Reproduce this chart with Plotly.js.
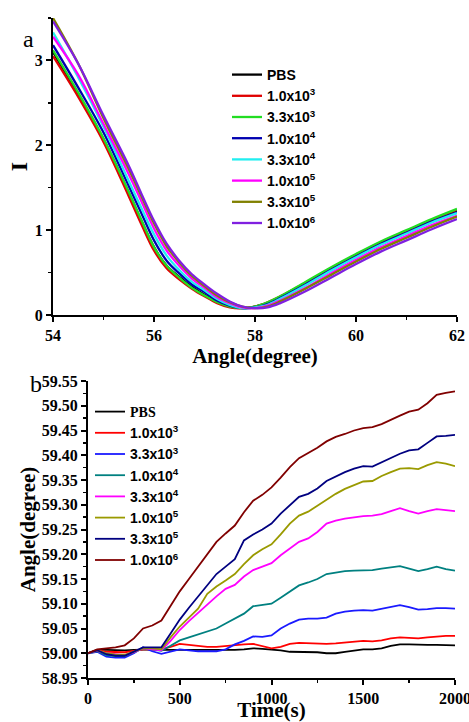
<!DOCTYPE html>
<html><head><meta charset="utf-8">
<script src="https://cdn.plot.ly/plotly-3.0.1.min.js"></script>
<style>html,body{margin:0;padding:0;background:#fff}#chart{width:469px;height:722px}</style>
</head><body><div id="chart"></div>
<script>
// ---------- Panel a: SPR reflectance curves ----------
const angleA = [54, 54.5, 55, 55.5, 55.75, 56, 56.25, 56.5, 56.75, 57, 57.25, 57.5, 57.75, 58, 58.25, 58.5, 59, 59.5, 60, 60.5, 61, 61.5, 62];
const namesA = ['PBS', '1.0x10<sup>3</sup>', '3.3x10<sup>3</sup>', '1.0x10<sup>4</sup>', '3.3x10<sup>4</sup>', '1.0x10<sup>5</sup>', '3.3x10<sup>5</sup>', '1.0x10<sup>6</sup>'];
const colorsA = ['#000000', '#e00000', '#22dd22', '#0000b0', '#22eef0', '#ff00ff', '#808000', '#8020e0'];
const iPBS  = [3.10, 2.60, 2.07, 1.44, 1.11, 0.80, 0.58, 0.45, 0.33, 0.24, 0.15, 0.10, 0.08, 0.10, 0.14, 0.21, 0.37, 0.54, 0.70, 0.85, 0.98, 1.11, 1.23];
const i1e3  = [3.05, 2.57, 2.04, 1.40, 1.07, 0.76, 0.55, 0.42, 0.31, 0.22, 0.14, 0.09, 0.08, 0.10, 0.15, 0.22, 0.38, 0.55, 0.71, 0.86, 0.99, 1.12, 1.24];
const i33e3 = [3.12, 2.62, 2.08, 1.45, 1.12, 0.80, 0.58, 0.44, 0.32, 0.23, 0.15, 0.10, 0.08, 0.10, 0.15, 0.22, 0.39, 0.56, 0.72, 0.87, 1.00, 1.13, 1.25];
const i1e4  = [3.18, 2.68, 2.15, 1.52, 1.20, 0.88, 0.64, 0.49, 0.36, 0.27, 0.17, 0.11, 0.08, 0.09, 0.13, 0.20, 0.36, 0.53, 0.69, 0.84, 0.97, 1.10, 1.21];
const i33e4 = [3.33, 2.80, 2.22, 1.58, 1.26, 0.95, 0.70, 0.53, 0.39, 0.29, 0.19, 0.12, 0.08, 0.09, 0.12, 0.19, 0.35, 0.52, 0.68, 0.83, 0.96, 1.09, 1.20];
const i1e5  = [3.28, 2.83, 2.25, 1.66, 1.34, 1.02, 0.76, 0.58, 0.43, 0.32, 0.21, 0.14, 0.09, 0.08, 0.11, 0.17, 0.32, 0.49, 0.65, 0.80, 0.93, 1.06, 1.17];
const i33e5 = [3.50, 2.96, 2.32, 1.72, 1.40, 1.08, 0.81, 0.62, 0.46, 0.34, 0.23, 0.15, 0.10, 0.08, 0.10, 0.16, 0.31, 0.47, 0.63, 0.78, 0.91, 1.04, 1.16];
const i1e6  = [3.46, 2.96, 2.35, 1.76, 1.43, 1.11, 0.84, 0.64, 0.48, 0.36, 0.25, 0.16, 0.10, 0.08, 0.09, 0.14, 0.28, 0.44, 0.60, 0.75, 0.88, 1.01, 1.13];
const seriesA = [iPBS, i1e3, i33e3, i1e4, i33e4, i1e5, i33e5, i1e6];

// ---------- Panel b: angle vs time ----------
const timeB = [0,50,100,150,200,250,300,350,400,450,500,550,600,650,700,750,800,850,900,950,1000,1050,1100,1150,1200,1250,1300,1350,1400,1450,1500,1550,1600,1650,1700,1750,1800,1850,1900,1950,2000];
const namesB = ['PBS', '1.0x10<sup>3</sup>', '3.3x10<sup>3</sup>', '1.0x10<sup>4</sup>', '3.3x10<sup>4</sup>', '1.0x10<sup>5</sup>', '3.3x10<sup>5</sup>', '1.0x10<sup>6</sup>'];
const colorsB = ['#000000', '#ff0000', '#1a1aff', '#008080', '#ff00ff', '#9a9a00', '#000080', '#800000'];
const bPBS  = [59.000,59.007,59.007,59.006,59.006,59.007,59.008,59.008,59.007,59.007,59.007,59.007,59.007,59.006,59.006,59.006,59.007,59.008,59.010,59.009,59.008,59.006,59.003,59.003,59.003,59.002,59.000,59.000,59.003,59.006,59.008,59.008,59.010,59.015,59.018,59.018,59.017,59.017,59.017,59.017,59.016];
const b1e3  = [59.000,59.006,59.003,59.002,59.002,59.005,59.008,59.008,59.008,59.013,59.019,59.017,59.015,59.013,59.013,59.015,59.017,59.018,59.019,59.014,59.010,59.013,59.019,59.021,59.020,59.019,59.019,59.020,59.022,59.024,59.025,59.024,59.026,59.030,59.032,59.031,59.030,59.032,59.034,59.035,59.035];
const b33e3 = [59.000,59.003,58.993,58.991,58.991,59.000,59.012,59.004,58.999,59.004,59.008,59.006,59.004,59.004,59.004,59.008,59.018,59.025,59.034,59.033,59.036,59.050,59.060,59.068,59.070,59.070,59.072,59.080,59.084,59.086,59.087,59.086,59.090,59.094,59.097,59.093,59.088,59.089,59.091,59.091,59.090];
const b1e4  = [59.000,59.004,58.996,58.994,58.994,59.002,59.010,59.008,59.005,59.015,59.026,59.032,59.038,59.043,59.050,59.060,59.070,59.080,59.095,59.097,59.100,59.112,59.125,59.137,59.143,59.150,59.160,59.163,59.166,59.167,59.168,59.168,59.171,59.174,59.176,59.171,59.166,59.170,59.175,59.170,59.167];
const b33e4 = [59.000,59.005,59.000,58.998,58.996,59.002,59.010,59.008,59.006,59.025,59.047,59.065,59.082,59.100,59.115,59.130,59.138,59.155,59.168,59.175,59.182,59.198,59.212,59.225,59.232,59.245,59.262,59.268,59.272,59.275,59.277,59.278,59.281,59.287,59.293,59.287,59.282,59.287,59.291,59.289,59.287];
const b1e5  = [59.000,59.006,59.000,58.997,58.997,59.003,59.010,59.010,59.008,59.032,59.054,59.072,59.090,59.120,59.135,59.147,59.160,59.180,59.198,59.210,59.220,59.240,59.262,59.278,59.286,59.298,59.310,59.322,59.332,59.340,59.347,59.348,59.358,59.366,59.373,59.374,59.372,59.380,59.386,59.383,59.378];
const b33e5 = [59.000,59.006,58.998,58.995,58.995,59.003,59.012,59.012,59.012,59.040,59.068,59.092,59.115,59.138,59.160,59.175,59.190,59.228,59.240,59.250,59.262,59.282,59.300,59.316,59.322,59.333,59.348,59.357,59.366,59.373,59.378,59.377,59.386,59.395,59.403,59.410,59.412,59.425,59.438,59.439,59.441];
const b1e6  = [59.000,59.008,59.010,59.012,59.016,59.030,59.050,59.056,59.066,59.095,59.125,59.150,59.175,59.198,59.225,59.242,59.258,59.285,59.308,59.320,59.335,59.355,59.376,59.394,59.404,59.415,59.428,59.437,59.443,59.450,59.455,59.457,59.463,59.472,59.480,59.488,59.492,59.505,59.522,59.526,59.529];
const seriesB = [bPBS, b1e3, b33e3, b1e4, b33e4, b1e5, b33e5, b1e6];

const W = 469, H = 722;
const px = v => v / W, py = v => 1 - v / H;

const traces = [];
seriesA.forEach((ys, k) => traces.push({
  x: angleA, y: ys, type: 'scatter', mode: 'lines', xaxis: 'x', yaxis: 'y',
  name: '<b>' + namesA[k] + '</b>', legend: 'legend',
  line: {color: colorsA[k], width: 2.3, shape: 'spline', smoothing: 1}
}));
seriesB.forEach((ys, k) => traces.push({
  x: timeB, y: ys, type: 'scatter', mode: 'lines', xaxis: 'x2', yaxis: 'y2',
  name: k === 0 ? '<b><span style="font-family:Liberation Serif">PBS</span></b>' : '<b>' + namesB[k] + '</b>', legend: 'legend2',
  line: {color: colorsB[k], width: 1.8}
}));

function tf() { return {family: 'Liberation Serif', size: 16, color: '#000', weight: 'bold'}; }
function ttl() { return {family: 'Liberation Serif', size: 21, color: '#000', weight: 'bold'}; }
function base(extra) {
  return Object.assign({showline: true, linecolor: '#000', linewidth: 2, ticks: 'outside', ticklen: 5, tickwidth: 2,
    tickcolor: '#000', showgrid: false, zeroline: false, tickfont: tf(), ticklabeloverflow: 'allow'}, extra);
}
function overlay(extra) {
  return Object.assign({showline: true, linecolor: '#000', linewidth: 2, ticks: 'inside', ticklen: 5, tickwidth: 2,
    tickcolor: '#000', showgrid: false, zeroline: false, showticklabels: false}, extra);
}
function minor(dir, d) { return {ticks: dir, dtick: d, ticklen: 3, tickwidth: 1.5, tickcolor: '#000'}; }

const xdA = [px(53), px(457)], ydA = [py(315), py(18)];
const xdB = [px(88), px(455)], ydB = [py(678), py(381)];

const layout = {
  width: W, height: H, margin: {l: 0, r: 0, t: 0, b: 0},
  paper_bgcolor: '#fff', plot_bgcolor: '#fff', showlegend: true,
  font: {family: 'Liberation Serif', size: 16, color: '#000', weight: 'bold'},
  xaxis: base({domain: xdA, anchor: 'y', range: [54, 62], dtick: 2, tick0: 54, minor: minor('outside', 1),
    title: {text: 'Angle(degree)', font: ttl(), standoff: 2}}),
  yaxis: base({domain: ydA, anchor: 'x', range: [0, 3.5], dtick: 1, tick0: 0, minor: minor('outside', 0.5),
    title: {text: 'I', font: {family: 'Liberation Serif', size: 24, color: '#000', weight: 'bold'}, standoff: 0}}),
  xaxis3: overlay({overlaying: 'x', side: 'top', anchor: 'y', range: [54, 62], dtick: 2, tick0: 54, minor: minor('inside', 1)}),
  yaxis3: overlay({overlaying: 'y', side: 'right', anchor: 'x', range: [0, 3.5], dtick: 1, tick0: 0, minor: minor('inside', 0.5)}),
  xaxis2: base({domain: xdB, anchor: 'y2', range: [0, 2000], dtick: 500, tick0: 0, minor: minor('outside', 250),
    title: {text: 'Time(s)', font: ttl(), standoff: 3}}),
  yaxis2: base({domain: ydB, anchor: 'x2', range: [58.95, 59.55], dtick: 0.05, tick0: 58.95, tickformat: '.2f',
    minor: minor('outside', 0.025), title: {text: 'Angle(degree)', font: ttl(), standoff: 0}}),
  xaxis4: overlay({overlaying: 'x2', side: 'top', anchor: 'y2', range: [0, 2000], dtick: 500, tick0: 0, minor: minor('inside', 250)}),
  yaxis4: overlay({overlaying: 'y2', side: 'right', anchor: 'x2', range: [58.95, 59.55], dtick: 0.05, tick0: 58.95, minor: minor('inside', 0.025)}),
  legend: {x: px(227), y: py(59), xanchor: 'left', yanchor: 'top', bgcolor: 'rgba(0,0,0,0)',
    font: {family: 'Liberation Sans', size: 14, color: '#000'}, tracegroupgap: 0, itemwidth: 30},
  legend2: {x: px(90), y: py(396), xanchor: 'left', yanchor: 'top', bgcolor: 'rgba(0,0,0,0)',
    font: {family: 'Liberation Sans', size: 14, color: '#000'}, tracegroupgap: 0, itemwidth: 30},
  annotations: [
    {text: 'a', x: px(21), y: py(24), xref: 'paper', yref: 'paper', showarrow: false,
     font: {family: 'Liberation Serif', size: 24, color: '#000', weight: 'normal'}},
    {text: 'b', x: px(28), y: py(384), xref: 'paper', yref: 'paper', showarrow: false,
     font: {family: 'Liberation Serif', size: 24, color: '#000', weight: 'normal'}}
  ]
};

Plotly.newPlot('chart', traces, layout, {displayModeBar: false, staticPlot: true});
</script></body></html>
